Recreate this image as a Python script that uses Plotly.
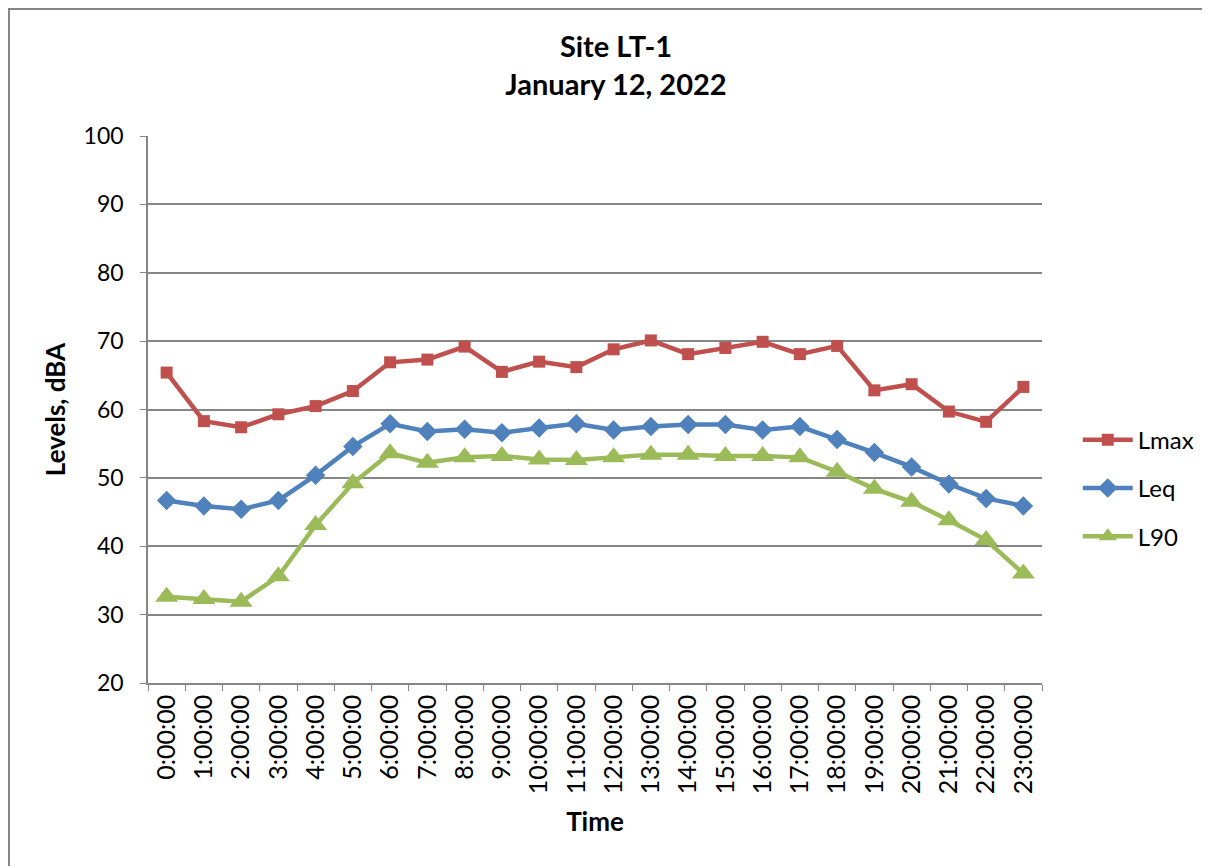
import plotly.graph_objects as go

times = [f"{h}:00:00" for h in range(24)]
lmax = [65.4, 58.3, 57.4, 59.3, 60.5, 62.7, 66.9, 67.3, 69.2, 65.5, 67.0, 66.2,
        68.8, 70.1, 68.1, 69.0, 69.9, 68.1, 69.3, 62.8, 63.7, 59.7, 58.2, 63.3]
leq = [46.7, 45.9, 45.4, 46.7, 50.4, 54.6, 57.9, 56.8, 57.1, 56.6, 57.3, 57.9,
       57.0, 57.5, 57.8, 57.8, 57.0, 57.5, 55.6, 53.7, 51.6, 49.1, 47.0, 45.9]
l90 = [32.6, 32.3, 31.9, 35.6, 43.1, 49.2, 53.6, 52.2, 53.0, 53.2, 52.7, 52.6,
       53.0, 53.4, 53.4, 53.2, 53.2, 53.0, 50.9, 48.4, 46.5, 43.8, 40.9, 36.0]

FONT = "Lato"
fig = go.Figure()
series = [
    ("Lmax", lmax, "#C0504D", "square", 12),
    ("Leq", leq, "#4F81BD", "diamond", 15),
    ("L90", l90, "#9BBB59", "triangle-up", 20),
]
for name, vals, col, sym, sz in series:
    fig.add_trace(go.Scatter(
        x=times, y=vals, name=name, mode="lines+markers",
        line=dict(color=col, width=4.5),
        marker=dict(symbol=sym, size=sz, color=col),
        legendgroup=name,
    ))

grid = "#868686"
L, T, W, H = 140, 128, 894, 547
fig.update_layout(
    width=1210, height=866,
    margin=dict(l=L, r=1210 - L - W, t=T, b=866 - T - H),
    paper_bgcolor="white", plot_bgcolor="white",
    font=dict(family=FONT, color="black"),
    title=dict(text="<b>Site LT-1<br>January 12, 2022</b>", x=(608 - L) / W, xanchor="center",
               xref="paper", yref="container", y=0.943, yanchor="top",
               font=dict(size=29, family=FONT)),
    showlegend=True,
    legend=dict(x=1.04, y=0.356, xanchor="left", yanchor="middle",
                font=dict(size=24, family=FONT), tracegroupgap=14,
                traceorder="grouped", itemwidth=50),
    xaxis=dict(
        type="category", range=[-0.5, 23.5], tickangle=-90,
        tickson="boundaries", ticks="outside", ticklen=6, tickcolor=grid,
        showline=True, linecolor=grid, linewidth=1.5, showgrid=False,
        tickfont=dict(size=25, family=FONT),
        title=dict(text="<b>Time</b>", font=dict(size=26, family=FONT), standoff=20),
    ),
    yaxis=dict(
        range=[20, 100], dtick=10, ticks="outside", ticklen=6, tickcolor=grid,
        showline=True, linecolor=grid, linewidth=1.5, ticklabelstandoff=12,
        showgrid=True, gridcolor=grid, gridwidth=1.5, zeroline=False,
        tickfont=dict(size=23, family=FONT),
        title=dict(text="<b>Levels, dBA</b>", font=dict(size=26, family=FONT), standoff=11),
    ),
    shapes=[dict(type="rect", xref="paper", yref="paper",
                 x0=(9 - 148) / W, x1=1.3, y0=-0.5, y1=1 + (T - 1) / H,
                 line=dict(color="#868686", width=2), fillcolor="rgba(0,0,0,0)", layer="below")],
)

fig.write_html("out.html")
